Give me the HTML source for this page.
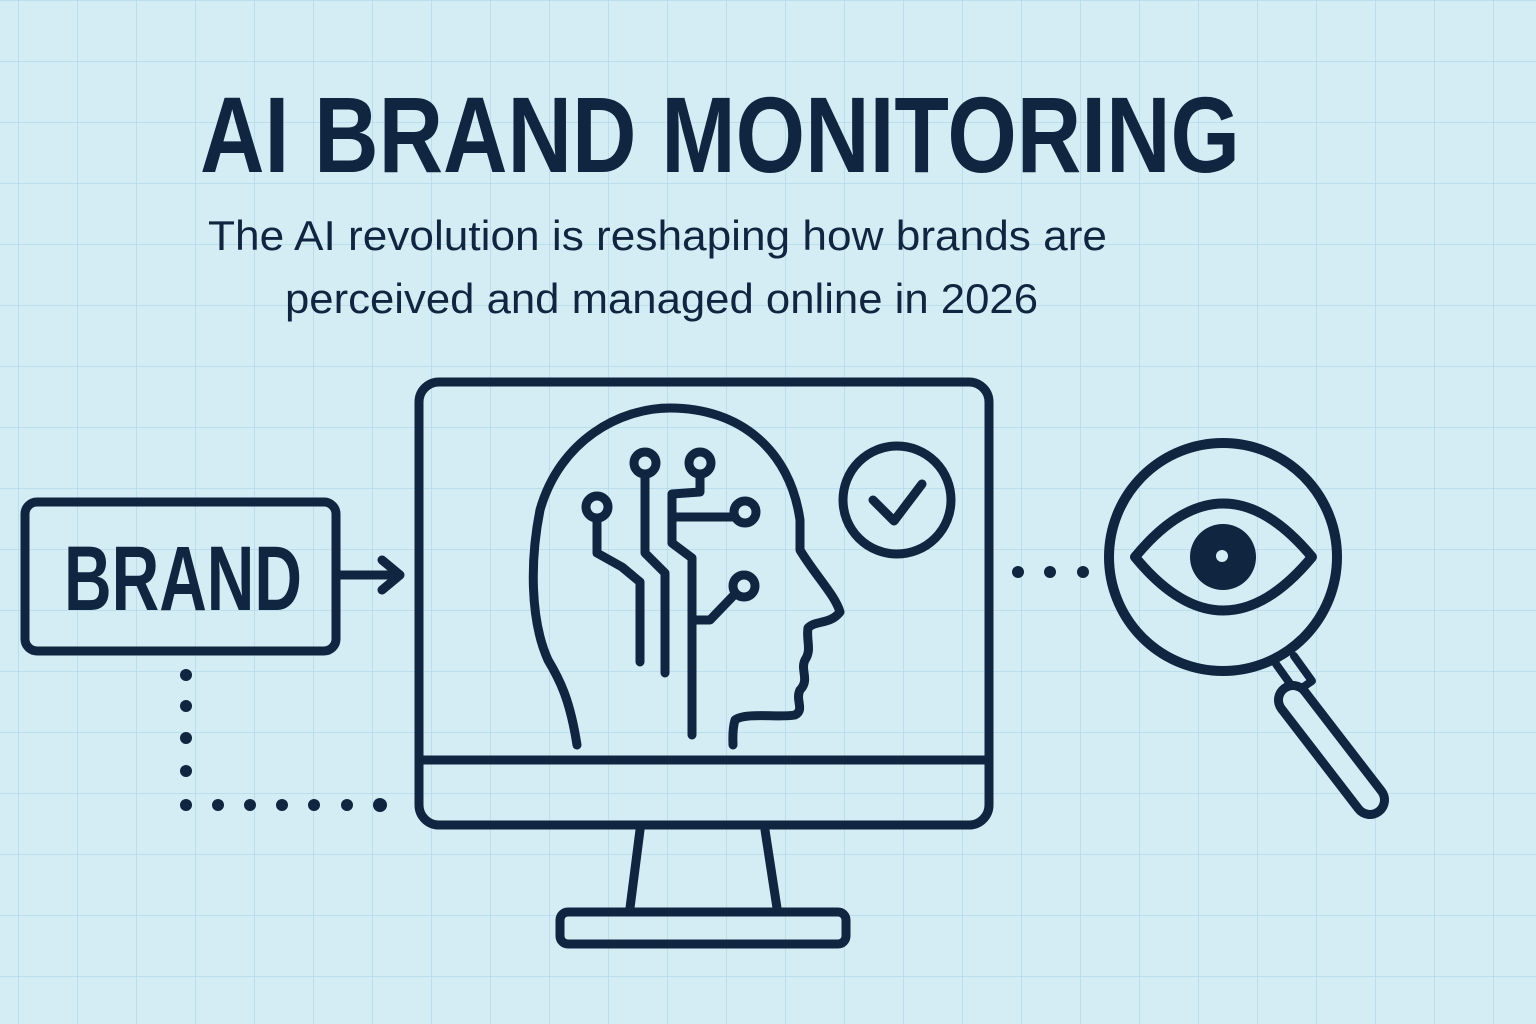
<!DOCTYPE html>
<html><head><meta charset="utf-8"><style>
html,body{margin:0;padding:0;background:#d4edf5;}
svg{display:block}
</style></head><body>
<svg width="1536" height="1024" viewBox="0 0 1536 1024" xmlns="http://www.w3.org/2000/svg">
<defs>
<pattern id="g" x="18" y="0" width="59" height="61" patternUnits="userSpaceOnUse">
<path d="M0 0V61M0 0H59" stroke="#b3d9ea" stroke-width="1.5" fill="none"/>
</pattern>
</defs>
<rect width="1536" height="1024" fill="#d4edf5"/>
<rect width="1536" height="1024" fill="url(#g)"/>
<g fill="#0f2540" font-family="Liberation Sans, sans-serif">
<text x="200" y="172" font-size="108" font-weight="bold" textLength="1040" lengthAdjust="spacingAndGlyphs">AI BRAND MONITORING</text>
<text x="208" y="250" font-size="42" textLength="899" lengthAdjust="spacingAndGlyphs">The AI revolution is reshaping how brands are</text>
<text x="285" y="313" font-size="42" textLength="753" lengthAdjust="spacingAndGlyphs">perceived and managed online in 2026</text>
<text x="64" y="610" font-size="92" font-weight="bold" textLength="238" lengthAdjust="spacingAndGlyphs">BRAND</text>
</g>
<g fill="none" stroke="#0f2540" stroke-width="9" stroke-linecap="round" stroke-linejoin="round">
<rect x="25" y="502" width="311" height="149" rx="12"/>
<path d="M340 575H398M382 560L400 575L382 590"/>
<rect x="419" y="382" width="570" height="443" rx="20"/>
<path d="M419 760H989"/>
<path d="M640 830L630 908M765 830L777 908"/>
<rect x="560" y="912" width="286" height="32" rx="8"/>
<path d="M577 745C570 700 560 680 548 660C530 620 530 560 540 510C560 440 620 408 670 408C740 408 790 450 800 520L800 550C815 575 835 595 840 612C830 625 815 620 808 628C806 640 812 650 805 660C800 670 810 680 800 690C795 700 805 710 795 715C780 718 745 712 735 720C732 730 733 740 733 745"/>
<circle cx="597" cy="507" r="11"/>
<path d="M597 518V553L622 567L640 582V662"/>
<circle cx="645" cy="463" r="11"/>
<path d="M645 474V553L665 573V673"/>
<circle cx="700" cy="463" r="11"/>
<path d="M700 474V492L672 494V543L692 558V735M672 517H734"/>
<circle cx="745" cy="512" r="11"/>
<circle cx="744" cy="586" r="11"/>
<path d="M735 594L710 620H694"/>
<circle cx="897" cy="500" r="54"/>
<path d="M873 500L894 521L922 484"/>
<circle cx="1223" cy="557" r="114" stroke-width="10"/>
<path d="M1135 557Q1223 450 1312 557Q1223 664 1135 557Z" stroke-width="10"/>
<path d="M1276 664L1296 692L1312 681L1294 656" stroke-width="8"/>
</g>
<line x1="1293" y1="700" x2="1370" y2="800" stroke="#0f2540" stroke-width="38" stroke-linecap="round"/>
<line x1="1293" y1="700" x2="1370" y2="800" stroke="#d4edf5" stroke-width="20" stroke-linecap="round"/>
<circle cx="1223" cy="557" r="33" fill="#0f2540"/>
<circle cx="1222" cy="556" r="6" fill="#d4edf5"/>
<g fill="#0f2540">
<circle cx="186" cy="675" r="6"/><circle cx="186" cy="706" r="6"/><circle cx="186" cy="738" r="6"/><circle cx="186" cy="771" r="6"/>
<circle cx="186" cy="805" r="6"/><circle cx="218" cy="805" r="6"/><circle cx="250" cy="805" r="6"/><circle cx="282" cy="805" r="6"/><circle cx="314" cy="805" r="6"/><circle cx="347" cy="805" r="6"/><circle cx="380" cy="805" r="7"/>
<circle cx="1018" cy="572" r="6"/><circle cx="1050" cy="572" r="6"/><circle cx="1083" cy="572" r="6"/>
</g>
</svg>
</body></html>
